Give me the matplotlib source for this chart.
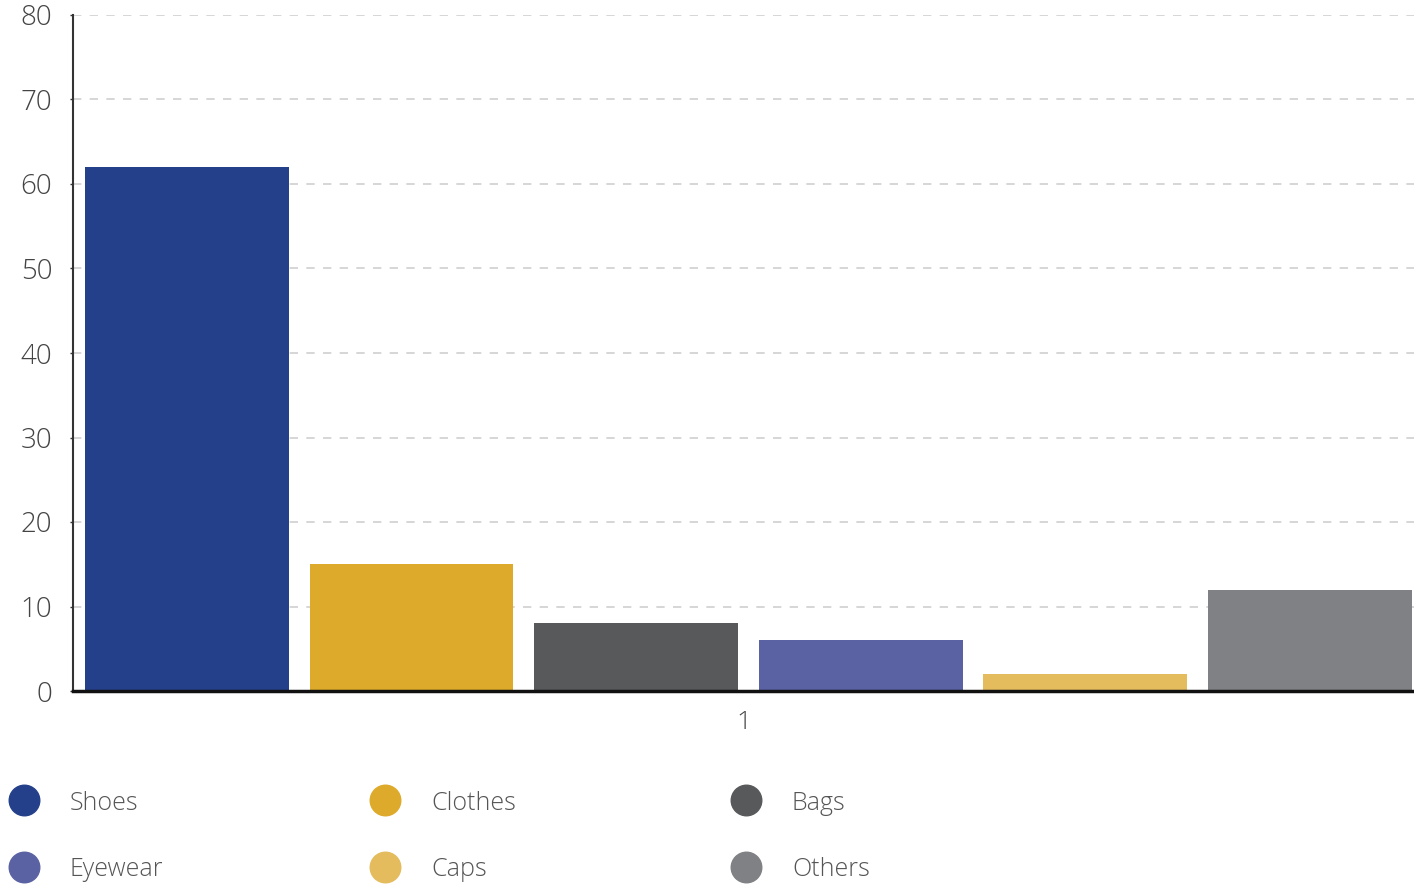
import matplotlib.pyplot as plt
from matplotlib.lines import Line2D
import numpy as np

plt.rcParams['font.family'] = ['Open Sans', 'DejaVu Sans']
plt.rcParams['font.weight'] = 'light'

# Data
categories = ["Shoes", "Clothes", "Bags", "Eyewear", "Caps", "Others"]
values = [62, 15, 8, 6, 2, 12]
colors = ["#25408b", "#ddaa2b", "#58595b", "#5a62a3", "#e4bc5e", "#808184"]
x_labels = ["1"]
y_ticks = [0, 10, 20, 30, 40, 50, 60, 70, 80]

W, H = 1414, 884
fig = plt.figure(figsize=(W / 100, H / 100), dpi=100)
ax = fig.add_axes([73 / W, 1 - 691 / H, (W - 73) / W, (691 - 15) / H])

# grouped bars around the single x position
step = 0.1675
width = 0.152
offset = 0.0037
n = len(categories)
for i, (name, val, c) in enumerate(zip(categories, values, colors)):
    xpos = offset + (i - (n - 1) / 2) * step
    ax.bar(xpos, val, width=width, color=c, zorder=2, label=name)

ax.set_xlim(-0.5, 0.5)
ax.set_ylim(0, 80)
ax.set_xticks([0])
ax.set_xticklabels(x_labels)
ax.set_yticks(y_ticks)

ax.grid(axis="y", color="#cfcfcf", linestyle=(0, (5, 5)), linewidth=1.2, zorder=1)
ax.set_axisbelow(True)

for s in ["top", "right"]:
    ax.spines[s].set_visible(False)
ax.spines["left"].set_color("#333333")
ax.spines["left"].set_linewidth(1.5)
ax.spines["bottom"].set_color("#111111")
ax.spines["bottom"].set_linewidth(2.5)
ax.spines["bottom"].set_zorder(3)

ax.tick_params(axis="y", length=2, width=1, color="#333333", pad=13,
               labelsize=20, labelcolor="#444444")
ax.tick_params(axis="x", length=0, pad=14, labelsize=19, labelcolor="#444444")

# legend laid out in a 3-column grid below the plot
for i, (name, c) in enumerate(zip(categories, colors)):
    col, row = i % 3, i // 3
    mx = (24 + col * 361) / W
    my = 1 - (800 + row * 67) / H
    fig.add_artist(Line2D([mx], [my], marker="o", markersize=22, color=c,
                          linestyle="none", transform=fig.transFigure))
    fig.text(mx + 46 / W, my - 3 / H, name, fontsize=18, color="#555555",
             va="center", ha="left")

fig.savefig("out.png", dpi=100)
